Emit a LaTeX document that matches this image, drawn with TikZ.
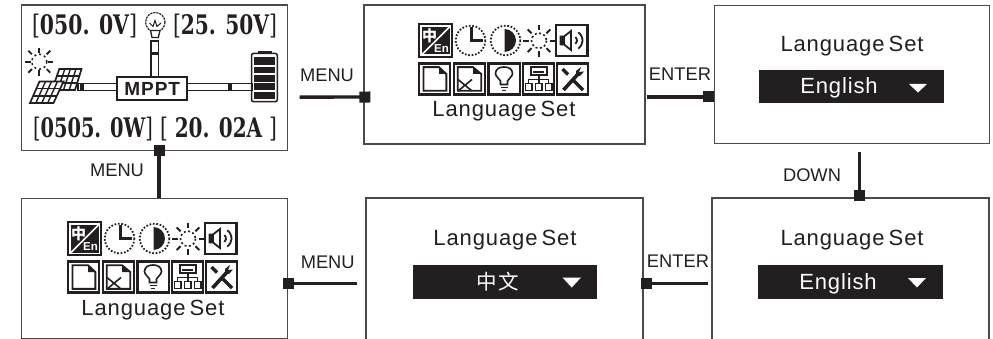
\documentclass[tikz,border=0pt]{standalone}
\usepackage{fontspec}
\usepackage{graphicx}
\setmainfont{Liberation Sans}
\newfontfamily\spacedfont[LetterSpace=4,WordSpace=0.6]{Liberation Sans}
\newfontfamily\cjkfont[LetterSpace=8]{Noto Sans CJK SC}
\newfontfamily\cjkiconfont{Noto Sans CJK SC}
\newfontfamily\lcdfont{DejaVu Serif}
\newfontfamily\mpptfont[LetterSpace=5]{Liberation Sans}
\usetikzlibrary{arrows.meta}
\definecolor{ink}{HTML}{231F20}
\definecolor{frame}{HTML}{4A4A4A}
\newcommand{\fitbox}[3]{\resizebox*{#1}{#2}{#3}}
\newcommand{\lb}{{\mdseries[}}
\newcommand{\rb}{{\mdseries]}}
\tikzset{
  x=1pt,y=-1pt,
  screen/.style={draw=frame,line width=1.1pt,fill=white,inner sep=0pt,rectangle},
  keylabel/.style={font=\fontsize{18.3}{20}\selectfont,text=ink,inner sep=0pt,anchor=base},
  title/.style={font=\spacedfont\fontsize{22}{24}\selectfont,text=ink,inner sep=0pt,anchor=base},
  bar/.style={fill=ink,inner sep=0pt,rectangle},
  bartext/.style={font=\spacedfont\fontsize{22}{24}\selectfont,text=white,inner sep=0pt,anchor=base},
  conn/.style={draw=ink,line width=3.4pt,-{Square[length=11pt,width=11pt]}},
  lcd/.style={inner sep=0pt,text=ink,font=\lcdfont\bfseries\fontsize{24}{28}\selectfont},
  ifr/.style={draw=ink,line width=2.1pt,fill=white},
  idot/.style={draw=ink,line width=1.8pt,dash pattern=on 1.7pt off 1.7pt},
  ipg/.style={draw=ink,line width=1.6pt},
  pipe/.style={draw=ink,line width=1.4pt,fill=white},
  menuicons/.pic={
    % language
    \draw[ifr] (0,0) rectangle (33.3,33.3);
    \fill[ink] (2.8,2.8) rectangle (30.5,30.5);
    \draw[white,line width=1.6pt] (3,30.5) -- (30.5,3);
    \node[text=white,inner sep=0pt,font=\cjkiconfont\bfseries\fontsize{15}{15}\selectfont] (-zh) at (10.5,11.5) {中};
    \node[text=white,inner sep=0pt,font=\bfseries\fontsize{11.5}{12}\selectfont] (-en) at (22.5,24.5) {En};
    % clock
    \draw[idot] (51.5,16.5) circle (14.8);
    \draw[ink,line width=2.8pt] (52.3,3.5) -- (52.3,16.8) -- (64,16.8);
    % contrast
    \draw[idot] (86.5,16.5) circle (14.8);
    \fill[ink] (85.5,5) arc (-90:90:11.5) -- cycle;
    % sun
    \draw[ink,line width=1.6pt,dash pattern=on 2pt off 2.4pt] (120,16.7) circle (7.5);
    \foreach \a in {0,45,...,315}{\draw[ink,line width=1.9pt] (120,16.7) ++(\a:10.5) -- ++(\a:5.5);}
    % speaker
    \draw[ifr] (137,1) rectangle (168.5,32);
    \draw[ink,line width=1.8pt,line join=miter,fill=white] (141.5,12.5) -- (145,12.5) -- (152,7) -- (152,26) -- (145,20.5) -- (141.5,20.5) -- cycle;
    \fill[ink] (141.5,12.5) rectangle (146,20.5);
    \draw[ink,line width=1.8pt] (153.5,16.5) ++(-50:4.5) arc (-50:50:4.5);
    \draw[ink,line width=1.8pt] (153.5,16.5) ++(-55:10) arc (-55:55:10);
    % document
    \draw[ifr] (0,39.5) rectangle (31,70.5);
    \draw[ink,line width=1.9pt] (4.5,43.2) -- (20,43.2) -- (27.3,50) -- (27.3,66.8) -- (4.5,66.8) -- cycle;
    \fill[ink] (20,43.2) -- (27.3,50) -- (20,50) -- cycle;
    % document x
    \draw[ifr] (35,39.5) rectangle (66,70.5);
    \draw[ink,line width=1.9pt] (38.7,43.2) -- (54,43.2) -- (62.2,50) -- (62.2,66.8) -- (38.7,66.8) -- cycle;
    \fill[ink] (54,43.2) -- (62.2,50) -- (54,50) -- cycle;
    \draw[ipg] (39,55.5) -- (53,67) (39,67) -- (53,55.5);
    % bulb
    \draw[ifr] (69.5,39.5) rectangle (101,70.5);
    \draw[ipg] (81.5,60.5) -- (81.5,57) .. controls (80,54) and (76.5,52.5) .. (76.5,49.5) .. controls (76.5,44.5) and (81,43) .. (85,43) .. controls (89,43) and (93.5,44.5) .. (93.5,49.5) .. controls (93.5,52.5) and (90,54) .. (88.5,57) -- (88.5,60.5) -- cycle;
    \draw[ipg] (81.5,63.5) -- (88.5,63.5) (83,66.5) -- (87,66.5);
    % network
    \draw[ifr] (104,39.5) rectangle (135,70.5);
    \draw[ipg] (111.7,43) rectangle (128,51);
    \draw[ipg] (114,48) -- (125,48);
    \draw[ipg] (119.7,51) -- (119.7,59) (109.5,59) -- (109.5,55.5) -- (129.5,55.5) -- (129.5,59);
    \draw[ipg] (106.5,59.5) rectangle (113,66.5) (116.3,59.5) rectangle (123,66.5) (126.3,59.5) rectangle (132.7,66.5);
    % tools
    \draw[ifr] (138,39.5) rectangle (169,70.5);
    \draw[ink,line width=3.2pt] (143.5,45) -- (149,50.5);
    \draw[ink,line width=3.2pt] (154,56) -- (164,66);
    \draw[ink,line width=3.6pt] (144.5,66) -- (160,49);
    \fill[ink] (157,47) -- (162,43) -- (160,48) -- (165,47.5) -- (161,52) -- (157,51) -- cycle;
    \node[title] (-label) at (85,93) {Language Set};
  }
}
\begin{document}
\begin{tikzpicture}
\useasboundingbox (0,0) rectangle (993,339);
\fill[white] (0,0) rectangle (993,339);
% screens
\node[screen,minimum width=265.5pt,minimum height=145.5pt] (A) at (154.4,77.8) {};
\node[screen,minimum width=281pt,minimum height=139pt] (B) at (504.5,74.5) {};
\node[screen,minimum width=275.5pt,minimum height=138pt] (C) at (851.8,74.5) {};
\node[screen,minimum width=265.5pt,minimum height=139.5pt] (D) at (154.4,268.5) {};
\node[screen,minimum width=277pt,minimum height=150pt] (E) at (504.5,273) {};
\node[screen,minimum width=277pt,minimum height=150pt] (F) at (850.5,273) {};
% main screen contents
\node[lcd] (v1) at (84.5,26) {\fitbox{105pt}{24pt}{\lb 050. 0V\rb}};
\node[lcd] (v2) at (225,26) {\fitbox{104pt}{24pt}{\lb 25. 50V\rb}};
\node[lcd] (v3) at (93,129) {\fitbox{120pt}{24pt}{\lb 0505. 0W\rb}};
\node[lcd] (v4) at (218.5,129) {\fitbox{117pt}{24pt}{\lb{} 20. 02A \rb}};
% pipes
\draw[pipe] (151,41) rectangle (158.2,78);
\fill[ink] (151,52) rectangle (158.2,55.5);
\draw[pipe] (78,83.5) rectangle (118,90.5);
\fill[ink] (80,83.5) rectangle (84,90.5);
\draw[pipe] (187,83.5) rectangle (252,90.5);
\fill[ink] (227.7,83.5) rectangle (231.7,90.5);
\node[draw=ink,line width=2pt,fill=white,minimum width=70pt,minimum height=23pt,inner sep=0pt,font=\mpptfont\bfseries\fontsize{19}{20}\selectfont,text=ink] (mppt) at (152.2,88.7) {MPPT};
% bulb
\draw[ink,line width=1.2pt,dash pattern=on 2.2pt off .9pt] (155.3,22.2) circle (9.7);
\draw[ink,line width=1pt] (149.5,23) -- (153,26.5) -- (155,20.5) -- (157,26.5) -- (161,23);
\draw[ink,line width=1.3pt,fill=white] (150.5,30.5) -- (160,30.5) -- (158.3,37.5) -- (152,37.5) -- cycle;
% sun
\draw[ink,line width=1.5pt,dash pattern=on 2pt off 3pt] (39.3,61.7) circle (7.5);
\foreach \a in {0,90,...,270}{\draw[ink,line width=1.9pt] (39.3,61.7) ++(\a:8.5) -- ++(\a:5.5);}
\foreach \a in {45,135,...,315}{\draw[ink,line width=1.9pt] (39.3,61.7) ++(\a:10.5) -- ++(\a:5);}
% solar panel: upper, then lower in front
\foreach \tlx/\trx/\brx/\blx/\ya/\yb in {59.3/81.5/75/52/69/90,39.5/63.5/53.5/30/81.5/103}{
  \fill[white] (\tlx,\ya) -- (\trx,\ya) -- (\brx,\yb) -- (\blx,\yb) -- cycle;
  \draw[ink,line width=1.7pt] (\tlx,\ya) -- (\trx,\ya) -- (\brx,\yb) -- (\blx,\yb) -- cycle;
  \foreach \t in {.333,.667}{
    \draw[ink,line width=1.4pt] ({\tlx+(\blx-\tlx)*\t},{\ya+(\yb-\ya)*\t}) -- ({\trx+(\brx-\trx)*\t},{\ya+(\yb-\ya)*\t});
  }
  \foreach \t in {.25,.5,.75}{
    \draw[ink,line width=1.4pt] ({\tlx+(\trx-\tlx)*\t},\ya) -- ({\blx+(\brx-\blx)*\t},\yb);
  }
}
% battery
\draw[ink,line width=1.5pt,rounded corners=2pt] (251.5,53.5) rectangle (277.3,101.7);
\fill[ink] (258,51) rectangle (272,53.5);
\foreach \ya/\yb in {57.5/65,66.7/73.5,75.5/82,83.5/90,92/99}{\fill[ink] (254,\ya) rectangle (275,\yb);}
% menu icon screens
\pic (m1) at (419,24) {menuicons};
\pic (m2) at (68,222) {menuicons};
% dropdown screens
\node[title] (tc) at (852,52) {Language Set};
\node[bar,minimum width=185pt,minimum height=33.5pt] (bc) at (851.7,86.5) {};
\node[bartext] (tec) at (839,93.7) {English};
\fill[white] (909,84) -- (927,84) -- (918,92.5) -- cycle;
\node[title] (tf) at (852,245) {Language Set};
\node[bar,minimum width=185pt,minimum height=33.5pt] (bf) at (850.7,282) {};
\node[bartext] (tef) at (838,289.3) {English};
\fill[white] (908,278) -- (926,278) -- (917,287.5) -- cycle;
\node[title] (te) at (505,245) {Language Set};
\node[bar,minimum width=184pt,minimum height=33.5pt] (be) at (504.8,282) {};
\node[text=white,inner sep=0pt,font=\cjkfont\fontsize{20.5}{22}\selectfont] (zh) at (498,282) {中文};
\fill[white] (562.5,277.5) -- (581,277.5) -- (571.7,287.5) -- cycle;
% connectors
\draw[conn] ([shift={(12,19.3)}]A.east) -- ([shift={(7,22.5)}]B.west);
\draw[conn] ([shift={(1,22.5)}]B.east) -- ([shift={(0,22.5)}]C.west);
\draw[conn] ([shift={(7.5,8)}]C.south) -- ([shift={(8.8,3.7)}]F.north);
\draw[conn] ([shift={(-3,10.5)}]F.west) -- ([shift={(-3,10.5)}]E.east);
\draw[conn] ([shift={(-8.5,10.5)}]E.west) -- ([shift={(-5.2,15)}]D.east);
\draw[conn] ([shift={(4.6,0)}]D.north) -- ([shift={(4.6,-6.5)}]A.south);
% key labels
\node[keylabel] (k1) at (327,82) {MENU};
\node[keylabel] (k2) at (680,81) {ENTER};
\node[keylabel] (k3) at (812,181.7) {DOWN};
\node[keylabel] (k4) at (678,267.7) {ENTER};
\node[keylabel] (k5) at (327.7,268.7) {MENU};
\node[keylabel] (k6) at (117,177) {MENU};
\end{tikzpicture}
\end{document}
